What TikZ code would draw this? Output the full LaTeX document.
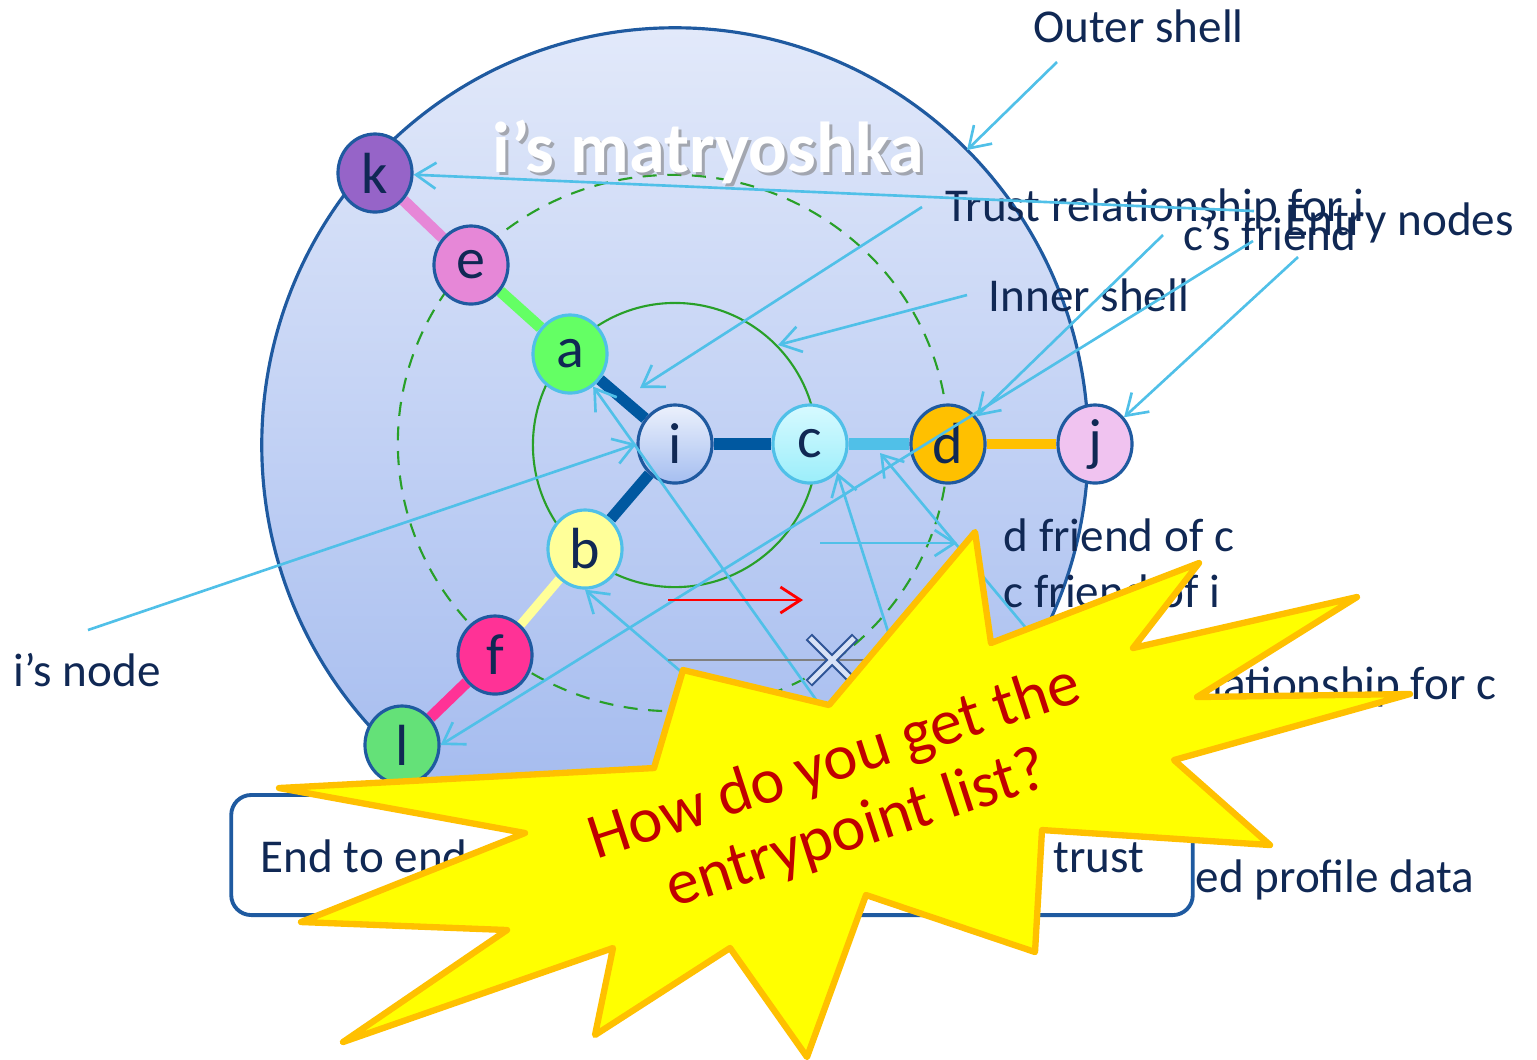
\documentclass[tikz,border=0pt]{standalone}
\usepackage{fontspec}
\setmainfont{Carlito}
\usetikzlibrary{positioning,arrows.meta,shapes.geometric}
\definecolor{shellblue}{RGB}{31,90,160}
\definecolor{shelltop}{RGB}{226,233,250}
\definecolor{shellbot}{RGB}{160,184,238}
\definecolor{shellgreen}{RGB}{40,160,40}
\definecolor{textnavy}{RGB}{16,40,84}
\definecolor{linkblue}{RGB}{0,88,160}
\definecolor{calloutblue}{RGB}{80,192,232}
\definecolor{kpurple}{RGB}{150,100,200}
\definecolor{epink}{RGB}{230,135,215}
\definecolor{agreen}{RGB}{100,255,100}
\definecolor{itop}{RGB}{236,241,252}
\definecolor{ibot}{RGB}{165,190,240}
\definecolor{ctop}{RGB}{215,250,255}
\definecolor{cbot}{RGB}{155,238,250}
\definecolor{dorange}{RGB}{255,192,0}
\definecolor{jpink}{RGB}{240,195,240}
\definecolor{byellow}{RGB}{255,255,153}
\definecolor{fpink}{RGB}{255,50,150}
\definecolor{lgreen}{RGB}{100,225,120}
\definecolor{staryellow}{RGB}{255,255,0}
\definecolor{starorange}{RGB}{255,192,0}
\definecolor{stardred}{RGB}{192,0,0}
\definecolor{crosslight}{RGB}{216,226,246}
\definecolor{crossdark}{RGB}{47,85,151}

\pgfdeclarelayer{shell}
\pgfdeclarelayer{link}
\pgfsetlayers{shell,link,main}

\tikzset{
  peer/.style={ellipse, draw=shellblue, line width=0.9pt, minimum width=0.74cm,
    minimum height=0.78cm, inner sep=0pt, text=textnavy,
    font=\fontsize{16.5}{16.5}\selectfont},
  peerlight/.style={peer, draw=calloutblue},
  tie/.style={line width=3.2pt},
  note/.style={text=textnavy, inner sep=0pt, anchor=base west,
    font=\fontsize{13.4}{16}\selectfont},
  callout/.style={calloutblue, line width=0.75pt,
    -{Straight Barb[length=2mm,width=2.6mm]}},
  titletext/.style={inner sep=0pt, anchor=base west,
    font=\bfseries\fontsize{20.5}{20.5}\selectfont},
}

\begin{document}
\begin{tikzpicture}[x=0.01cm,y=-0.01cm]
\useasboundingbox (0,0) rectangle (1537,1059);

% shells
\begin{pgfonlayer}{shell}
  \path[draw=shellblue, line width=0.9pt, top color=shelltop, bottom color=shellbot]
    (675,445) ellipse [x radius=4.13cm, y radius=4.17cm];
  \draw[shellgreen, line width=0.6pt] (675,445) circle [radius=1.42cm];
  \draw[shellgreen, line width=0.6pt, dash pattern=on 4pt off 3pt]
    (673,443) ellipse [x radius=2.75cm, y radius=2.68cm];
\end{pgfonlayer}

% title
\node[titletext, text=black!50, opacity=0.6] (titleshade) at (495,175) {i’s matryoshka};
\node[titletext, text=white] (title) at (492,172) {i’s matryoshka};

% peers
\node[peer, fill=kpurple] (k) at (375,173) {k};
\node[peer, fill=epink] (e) at (471,265) {e};
\node[peerlight, fill=agreen] (a) at (570,354) {a};
\node[peer, top color=itop, bottom color=ibot] (i) at (675,444) {i};
\node[peerlight, top color=ctop, bottom color=cbot] (c) at (810,444) {c};
\node[peer, fill=dorange] (d) at (948,444) {d};
\node[peer, fill=jpink] (j) at (1095,444) {j};
\node[peerlight, fill=byellow] (b) at (585,549) {b};
\node[peer, fill=fpink] (f) at (495,655) {f};
\node[peer, fill=lgreen] (l) at (402,745) {l};

% trust links
\begin{pgfonlayer}{link}
  \draw[tie, epink] (k) -- (e);
  \draw[tie, agreen] (e) -- (a);
  \draw[tie, linkblue] (a) -- (i);
  \draw[tie, linkblue] (i) -- (c);
  \draw[tie, line width=3.4pt, calloutblue] (c) -- (d);
  \draw[tie, line width=2.8pt, dorange] (d) -- (j);
  \draw[tie, linkblue] (i) -- (b);
  \draw[tie, line width=2.6pt, byellow] (b) -- (f);
  \draw[tie, fpink] (f) -- (l);
\end{pgfonlayer}

% notes
\node[note] (outer) at (1033,42) {Outer shell};
\node[note] (trusti) at (945,221) {Trust relationship for i};
\node[note] (entry) at (1285,235) {Entry nodes};
\node[note] (cfriend) at (1183,250) {c’s friend};
\node[note] (inner) at (988,311) {Inner shell};
\node[note] (dofc) at (1003,551) {d friend of c};
\node[note] (cofi) at (1003,607) {c friend of i};
\node[note, anchor=base east] (trustc) at (1497,699) {Trust relationship for c};
\node[note] (inode) at (13,686) {i’s node};

% callout ends
\coordinate (outerfrom) at (1057,62);
\coordinate (outerto) at (967,150);
\coordinate (trustfrom) at (922,207);
\coordinate (trustto) at (640,388);
\coordinate (innerfrom) at (967,295);
\coordinate (innerto) at (778,345);
\coordinate (entryk) at (1254,211);
\coordinate (entryl) at (1253,241);
\coordinate (entryj) at (1298,257);
\coordinate (friendd) at (1163,235);
\coordinate (inodefrom) at (88,630);
\coordinate (afrom) at (859,760);
\coordinate (bfrom) at (720,705);
\coordinate (cfrom) at (929,760);
\coordinate (cdfrom) at (1086,700);
\coordinate (cdto) at (880,453);
\coordinate (dcfrom) at (820,543);
\coordinate (dcto) at (957,543);
\coordinate (redfrom) at (668,600);
\coordinate (redto) at (803,600);
\coordinate (cutfrom) at (668,660);
\coordinate (cutto) at (870,660);

% callouts
\draw[callout] (outerfrom) -- (outerto);
\draw[callout] (trustfrom) -- (trustto);
\draw[callout] (innerfrom) -- (innerto);
\draw[callout] (entryk) -- (k);
\draw[callout] (entryl) -- (l.east);
\draw[callout] (entryj) -- (j);
\draw[callout] (friendd) -- (d);
\draw[callout] (inodefrom) -- (i.west);
\draw[callout] (afrom) -- (a);
\draw[callout] (bfrom) -- (b.south);
\draw[callout] (cfrom) -- (c.south east);
\draw[callout] (cdfrom) -- (cdto);
\draw[callout] (dcfrom) -- (dcto);
\draw[callout, red, line width=0.8pt] (redfrom) -- (redto);
\draw[gray, line width=0.8pt] (cutfrom) -- (cutto);

% broken mark
\draw[crossdark, line width=2.6pt, line cap=rect] (812,640) -- (852,680) (852,640) -- (812,680);
\draw[crosslight, line width=1.4pt] (810,638) -- (854,682) (854,638) -- (810,682);

% bottom box
\node[draw=shellblue, line width=1.1pt, rounded corners=0.2cm, fill=white,
  minimum width=9.61cm, minimum height=1.2cm] (e2ebox) at (712,855) {};
\node[note] (e2e) at (260,872) {End to end};
\node[note] (e2etrust) at (1053,872) {trust};
\node[note] (profile) at (1195,892) {ed profile data};

% burst
\draw[starorange, fill=staryellow, line width=1.8pt, line join=round]
  (975,532) -- (991,643) -- (1199,563) -- (1133,648) -- (1357,597) -- (1197,697)
  -- (1410,694) -- (1174,760) -- (1270,845) -- (1042,830) -- (1035,952)
  -- (866,895) -- (807,1057) -- (730,948) -- (595,1035) -- (613,948)
  -- (343,1042) -- (507,930) -- (301,922) -- (525,833) -- (279,788)
  -- (654,768) -- (683,670) -- (829,705) -- cycle;
\node[rotate=18, align=center, text=stardred, inner sep=0pt,
  font=\fontsize{18.3}{20}\selectfont] (ask) at (846,797)
  {How do you get the\\entrypoint list?};
\end{tikzpicture}
\end{document}
